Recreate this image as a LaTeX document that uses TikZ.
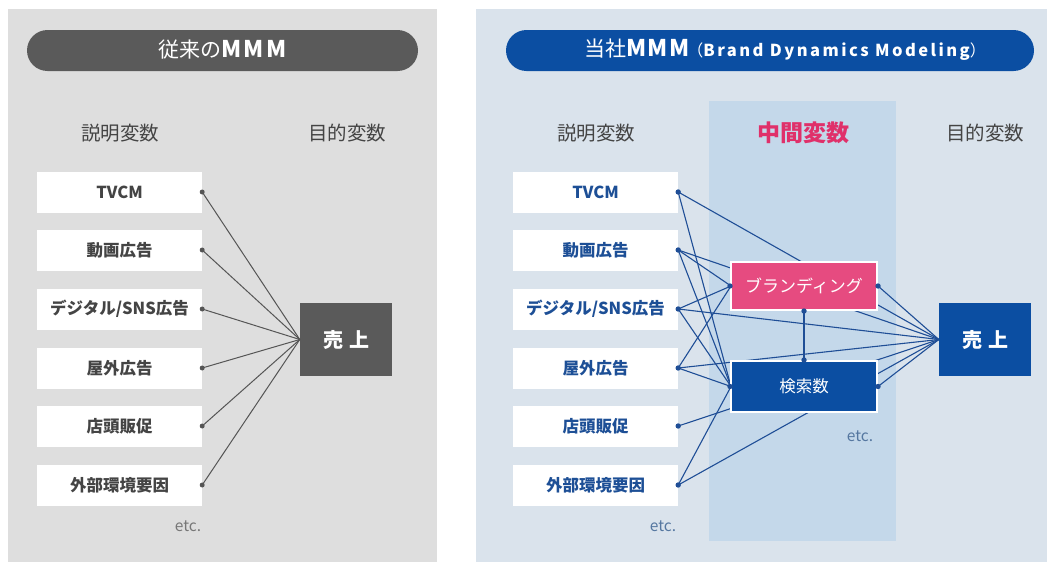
\documentclass[tikz,border=0pt]{standalone}
\usepackage{fontspec}
\setmainfont{Noto Sans CJK JP}
\definecolor{panelL}{HTML}{DEDEDE}
\definecolor{panelR}{HTML}{DAE3EC}
\definecolor{band}{HTML}{C4D8EA}
\definecolor{darkgray}{HTML}{5A5A5A}
\definecolor{txtgray}{HTML}{444444}
\definecolor{linegray}{HTML}{555555}
\definecolor{navy}{HTML}{0B4EA2}
\definecolor{txtblue}{HTML}{1D4F96}
\definecolor{lineblue}{HTML}{1F4E96}
\definecolor{pinkbox}{HTML}{E64B80}
\definecolor{pinktxt}{HTML}{E0306A}
\definecolor{etcgray}{HTML}{777777}
\definecolor{etcblue}{HTML}{5577A0}
\tikzset{
  pill/.style={rounded corners=20.5pt, minimum width=#1, minimum height=41pt, inner sep=0pt},
  head/.style={font=\fontsize{19.5}{19.5}\selectfont, text=txtgray},
  lbox/.style={fill=white, minimum width=165pt, minimum height=41pt, inner sep=0pt,
     font=\bfseries\fontsize{16.5}{16.5}\selectfont},
  tbox/.style={minimum width=92pt, minimum height=73pt, inner sep=0pt, text=white,
     font=\bfseries\fontsize{20}{20}\selectfont},
  mbox/.style={draw=white, line width=2pt, minimum width=146pt, inner sep=0pt, text=white},
  lline/.style={draw=linegray, line width=1pt},
  rline/.style={draw=lineblue, line width=1.1pt},
  etcs/.style={font=\fontsize{15.5}{15.5}\selectfont},
}
\begin{document}
\begin{tikzpicture}[x=1pt, y=-1pt]
\useasboundingbox (0,0) rectangle (1047,562);
% panels
\fill[panelL] (8,9) rectangle (437,562);
\fill[panelR] (476,9) rectangle (1047,562);
\fill[band] (709,101) rectangle (896,541);
% ---------- left ----------
\node[pill=391pt, fill=darkgray] (tL) at (222.5,50.5) {};
\node[text=white] (tLt) at (222.5,50) {{\fontsize{21}{21}\selectfont 従来の}{\bfseries\fontsize{23}{23}\selectfont\addfontfeature{LetterSpace=10}MMM}};
\node[head] (hL1) at (120,133) {説明変数};
\node[head] (hL2) at (347,133) {目的変数};
\node[lbox, text=txtgray] (L1) at (119.5,192) {TVCM};
\node[lbox, text=txtgray] (L2) at (119.5,250) {動画広告};
\node[lbox, text=txtgray] (L3) at (119.5,309) {デジタル/SNS広告};
\node[lbox, text=txtgray] (L4) at (119.5,368) {屋外広告};
\node[lbox, text=txtgray] (L5) at (119.5,426) {店頭販促};
\node[lbox, text=txtgray] (L6) at (119.5,485) {外部環境要因};
\node[tbox, fill=darkgray] (LS) at (346,339.5) {売\hspace{0.3em}上};
\node[etcs, text=etcgray] (etcL) at (188,526) {etc.};
\foreach \i in {1,...,6}{
  \draw[lline] (L\i.east) -- (LS.west);
  \fill[linegray] (L\i.east) circle[radius=2.5pt];
}
% ---------- right ----------
\node[pill=528pt, fill=navy] (tR) at (770,50.5) {};
\node[text=white] (tRt) at (785,50) {{\fontsize{21}{21}\selectfont 当社}{\bfseries\fontsize{23}{23}\selectfont\addfontfeature{LetterSpace=6}MMM}\hspace{-0.2em}{\fontsize{16}{16}\selectfont （}{\bfseries\fontsize{16.5}{16.5}\selectfont\addfontfeature{LetterSpace=15}Brand Dynamics Modeling}{\fontsize{16}{16}\selectfont ）}};
\node[head] (hR1) at (596,133) {説明変数};
\node[font=\bfseries\fontsize{23}{23}\selectfont, text=pinktxt] (hR2) at (803,133) {中間変数};
\node[head] (hR3) at (985,133) {目的変数};
\node[lbox, text=txtblue] (R1) at (595.5,192) {TVCM};
\node[lbox, text=txtblue] (R2) at (595.5,250) {動画広告};
\node[lbox, text=txtblue] (R3) at (595.5,309) {デジタル/SNS広告};
\node[lbox, text=txtblue] (R4) at (595.5,368) {屋外広告};
\node[lbox, text=txtblue] (R5) at (595.5,426) {店頭販促};
\node[lbox, text=txtblue] (R6) at (595.5,485) {外部環境要因};
\node[tbox, fill=navy] (RS) at (985,339.5) {売\hspace{0.3em}上};
\node[etcs, text=etcblue] (etcR1) at (663,526) {etc.};
\node[etcs, text=etcblue] (etcR2) at (860,436) {etc.};
% connectors (drawn before the middle boxes so that they pass behind)
\coordinate (RBw) at (731,286);
\coordinate (RKw) at (731,386.5);
\coordinate (RSw) at (939,339.5);
\foreach \i in {1,2,3,4,5,6}{ \draw[rline] (R\i.east) -- (RSw); }
\foreach \i in {2,3,4}{ \draw[rline] (R\i.east) -- (RBw); }
\foreach \i in {1,2,3,4,6}{ \draw[rline] (R\i.east) -- (RKw); }
\node[mbox, fill=pinkbox, minimum height=48pt, font=\fontsize{17}{17}\selectfont] (RB) at (804,286) {ブランディング};
\node[mbox, fill=navy, minimum height=51pt, font=\fontsize{16.5}{16.5}\selectfont] (RK) at (804,386.5) {検索数};
\draw[rline] (RB.east) -- (RS.west);
\draw[rline] (RK.east) -- (RS.west);
\draw[rline] (RB.south) -- (RK.north);
\foreach \p in {R1.east,R2.east,R3.east,R4.east,R5.east,R6.east,RB.west,RB.east,RB.south,RK.west,RK.east,RK.north}{
  \fill[lineblue] (\p) circle[radius=2.7pt];
}
\end{tikzpicture}
\end{document}
